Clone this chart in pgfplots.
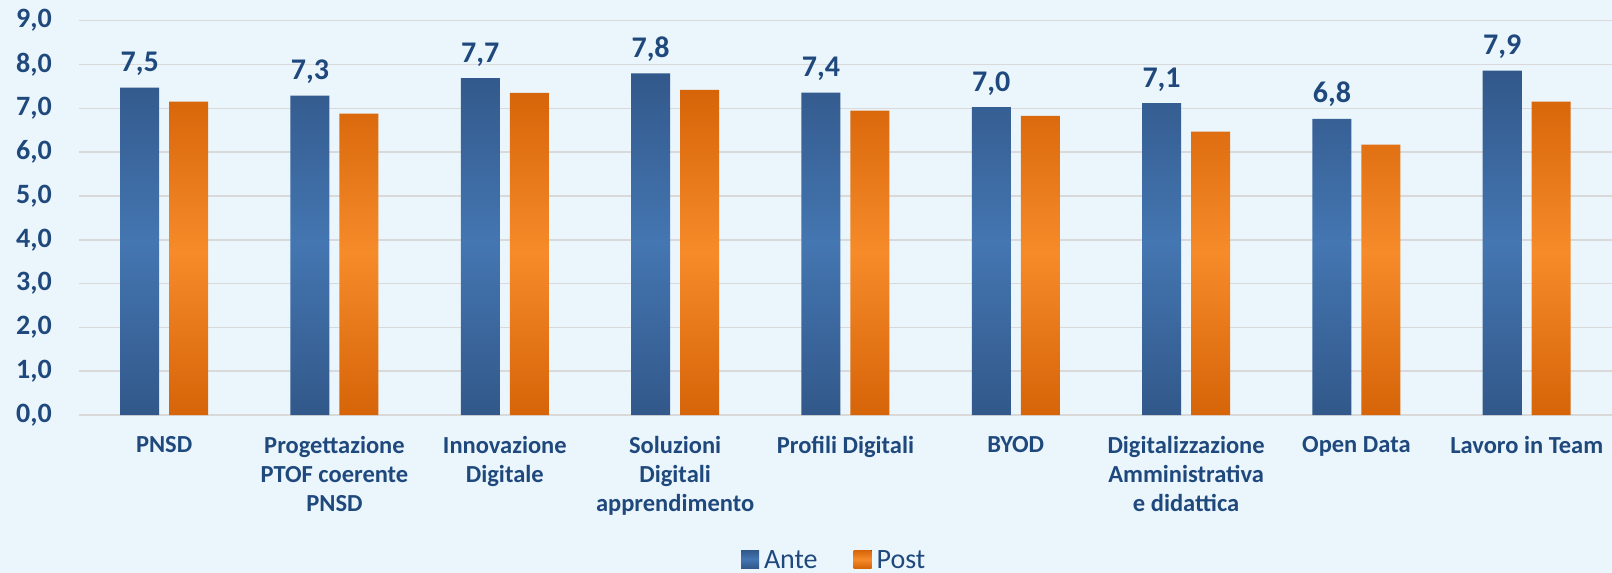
\documentclass[border=0pt]{standalone}
\usepackage{pgfplots}
\pgfplotsset{compat=1.18}
\usepackage{fontspec}
\setmainfont{Carlito}
\definecolor{bgc}{RGB}{234,245,252}
\definecolor{gridc}{RGB}{217,217,217}
\definecolor{txt}{RGB}{31,73,125}
\definecolor{blueD}{RGB}{50,88,138}
\definecolor{blueL}{RGB}{68,118,177}
\definecolor{orD}{RGB}{214,100,8}
\definecolor{orL}{RGB}{246,139,42}
\pgfplotstableread{
x ante post
0 7.47 7.15
1 7.29 6.88
2 7.69 7.35
3 7.80 7.42
4 7.36 6.95
5 7.03 6.83
6 7.12 6.47
7 6.76 6.17
8 7.86 7.15
}\datatable
\begin{document}
\begin{tikzpicture}
\fill[bgc] (0,0) rectangle (1612pt,573pt);
\path[use as bounding box] (0,0) rectangle (1612pt,573pt);
\begin{axis}[
  at={(79pt,158pt)}, anchor=south west,
  scale only axis, width=1533pt, height=394.3pt,
  xmin=-0.5, xmax=8.5, ymin=0, ymax=9,
  enlargelimits=false, clip=false,
  ybar=10pt, bar width=39pt,
  axis x line*=bottom, axis y line*=left,
  x axis line style={draw=gridc, line width=2.2pt},
  y axis line style={draw=none},
  major tick length=0pt,
  ymajorgrids, grid style={draw=gridc, line width=1.6pt},
  ytick={0,1,...,9},
  xtick=data,
  xticklabels={PNSD,{Progettazione\\PTOF coerente\\PNSD},{Innovazione\\Digitale},{Soluzioni\\Digitali\\apprendimento},Profili Digitali,BYOD,{Digitalizzazione\\Amministrativa\\e didattica},Open Data,Lavoro in Team},
  /pgf/number format/assume math mode=true,
  yticklabel={\pgfmathprintnumber[fixed,fixed zerofill,precision=1,use comma]{\tick}},
  yticklabel style={font=\fontsize{28}{28}\selectfont\bfseries, text=txt, inner sep=0pt, anchor=east, xshift=-27pt},
  xticklabel style={font=\fontsize{24.5}{29}\selectfont\bfseries, text=txt, inner sep=0pt, align=center, anchor=north, yshift=-21pt},
  legend style={at={(0.492,-0.368)}, anchor=center, draw=none, fill=none, legend columns=2,
    font=\fontsize{28}{28}\selectfont, text=txt, nodes={inner sep=0pt},
    /tikz/every odd column/.append style={column sep=5pt},
    /tikz/every even column/.append style={column sep=36pt}},
  legend image code/.code={\fill[#1,draw=none] (0pt,-8pt) rectangle (18pt,10pt);},
]
\addplot[draw=none, top color=blueD, bottom color=blueD, middle color=blueL,
  nodes near coords={\pgfmathprintnumber[fixed,fixed zerofill,precision=1,use comma]{\pgfplotspointmeta}},
  nodes near coords style={font=\fontsize{30}{30}\selectfont\bfseries, text=txt, inner sep=0pt, anchor=base, yshift=16pt}]
  table[x=x,y=ante]{\datatable};
\addplot[draw=none, top color=orD, bottom color=orD, middle color=orL]
  table[x=x,y=post]{\datatable};
\legend{Ante,Post}
\end{axis}
\end{tikzpicture}
\end{document}
